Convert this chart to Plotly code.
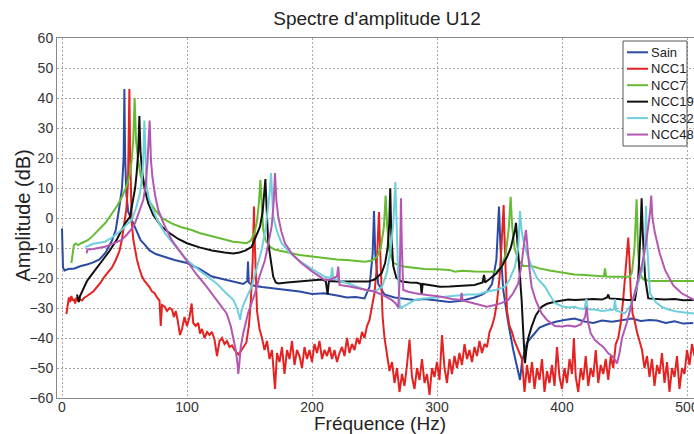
import plotly.graph_objects as go

# ---------------- data ----------------
series_names = ["Sain", "NCC1", "NCC7", "NCC19", "NCC32", "NCC48"]
series_colors = ["#2B4BA3", "#E52222", "#66BB33", "#111111", "#6FCFDB", "#B457B2"]

sain_f = [0, 0.8, 2, 5, 10, 15, 20, 25, 30, 35, 40, 43, 46, 48, 49.3, 49.9, 50.5, 51.5, 53, 55, 57, 60, 63, 66, 70, 75, 82, 90, 100, 110, 120, 130, 137, 145, 148.2, 148.8, 149.4, 153, 160, 170, 178, 190, 200, 210, 220, 228, 235, 242, 246, 248.5, 249.6, 250.6, 253, 258, 266, 275, 282, 290, 300, 310, 320, 330, 336, 340, 344, 347.5, 349.6, 350.8, 353, 357, 361, 364, 366.4, 368, 372, 377, 382, 388, 395, 402, 410, 418, 425, 432, 440, 449, 456, 463, 470, 476, 483, 490, 497, 505]
sain_db = [-3.5, -16.5, -17.5, -17, -16.8, -16, -15.5, -14.8, -13.8, -11.5, -7.5, -4, 4, 10, 20, 43, 20, 8, 2, 0, -2, -5, -7.5, -8.8, -10.8, -12, -13, -14, -15, -17, -19.5, -20.5, -21, -22, -21, -14.5, -21.5, -22.5, -23, -23.5, -24, -24.5, -25.3, -25.1, -25.8, -26.5, -26.3, -26.8, -23, -12, 2.3, -12, -22, -25.5, -26.5, -27, -27.3, -27, -27.5, -28, -27.6, -26.5, -25.5, -24.5, -22, -14, 3.8, -10, -24, -35, -44, -50, -54, -48, -41.5, -39, -36.5, -35.5, -34.6, -34, -33.5, -34.5, -35, -34.2, -34.6, -34, -33.5, -34.3, -34, -34.2, -35, -34.4, -35.2, -35]

ncc1_f = [3.5, 4.5, 5.5, 6.5, 7.5, 8.5, 9.5, 10.5, 11.5, 12.5, 14, 16, 18, 20, 22, 25, 28, 31, 34, 37, 40, 43, 46, 48, 50, 51.5, 52.8, 53.4, 53.9, 54.4, 55, 55.7, 57, 58.4, 60, 62, 64, 66, 68, 70, 72, 74, 76, 78, 79, 80, 82, 84, 86, 88, 89.5, 91, 92.5, 94.4, 96, 98, 100, 102, 103.7, 105, 107, 109, 110.4, 112, 114, 116, 118, 120, 122, 124, 126, 128, 130, 132, 134, 136, 138, 140, 141, 143, 145.5, 147.5, 149.5, 151, 152.5, 153.2, 153.6, 154, 155, 156, 158, 160, 162, 164, 166, 168, 170.4, 172, 174, 176, 178, 180, 182, 184, 186, 188, 190, 192, 194, 196, 198, 200, 202, 204, 206, 208, 210, 212, 214, 216, 218, 220, 222, 224, 226, 228, 230, 232, 234, 236, 238, 240, 242, 244, 246, 248, 250, 251.5, 252.8, 253.6, 254.3, 255.2, 256.5, 258, 260, 262, 264, 266, 268, 270, 272, 274, 276, 278, 280, 282, 284, 286, 288, 290, 292, 294, 296, 298, 300, 302, 304, 306, 308, 310, 312, 314, 316, 318, 320, 322, 324, 326, 328, 330, 332, 334, 336, 338, 340, 342, 344, 346, 348, 350, 351.5, 352.6, 353.3, 354, 355, 356, 358, 360, 362, 364, 366, 368, 370, 372, 374, 376, 378, 380, 382, 384, 386, 388, 390, 392, 394, 396, 398, 400, 402, 404, 406, 408, 409.5, 411, 413, 415, 417, 419, 421, 423, 425, 427, 429, 431, 433, 435, 437, 439, 441, 443, 445, 447, 449, 450.5, 452, 453, 454, 455, 456.5, 458, 460, 462, 464, 466, 468, 470, 472, 474, 476, 478, 480, 482, 484, 486, 488, 490, 492, 494, 496, 498, 500, 502, 504, 506]
ncc1_db = [-32, -29, -26.5, -28, -26, -27.5, -27, -28.5, -26.5, -27.5, -27, -27.5, -26.5, -26, -25.5, -24.5, -23, -21.5, -19.5, -18, -16.5, -14, -11, -7, -2, 3, 12, 25, 43, 25, 10, -1, -7, -10.5, -14, -17, -19.5, -21, -22, -23, -24.5, -25, -26.5, -27.5, -36, -29, -29.5, -31, -30, -30.5, -33, -31, -34, -39, -37, -33, -36, -33, -28.5, -35, -36, -35, -38.5, -37, -40, -38, -39, -38, -40.5, -46, -41, -40, -42, -41, -43, -42.5, -44, -45, -45.5, -44.5, -43, -41.5, -36, -28, -15, -2, 3.8, -5, -22, -31, -37, -40, -44, -41, -47, -44, -57, -45, -48, -43, -52, -44, -47, -41, -49, -44, -46, -50, -43, -47, -44, -48, -42, -45, -41, -47, -44, -46, -43, -47, -44, -48, -45, -43, -46, -40, -45, -42, -44, -40, -42, -38, -40, -36, -34, -30, -25, -18, -8, 2, -8, -20, -33, -40, -45, -51, -48, -55, -50, -58, -52, -56, -49, -40.5, -53, -57, -50, -54, -47, -55, -52, -59, -50, -53, -48, -54, -39, -50, -55, -47, -52, -46, -50, -45, -49, -42, -47, -44, -48, -43, -46, -41, -45, -42, -43, -38, -36, -33, -28, -20, -10, 0, 4.3, -6, -20, -31, -36, -38, -41, -43, -45, -47, -58, -49, -55, -48, -57, -50, -54, -47, -58, -51, -55, -49, -56, -43, -53, -57, -50, -55, -47, -52, -40, -53, -58, -50, -54, -46, -56, -50, -53, -44, -55, -49, -52, -47, -54, -46, -50, -42, -40, -35, -27, -20, -13, -6.5, -14, -25, -32, -34, -38, -41, -44, -50, -46, -53, -47, -56, -49, -52, -45, -55, -48, -58, -50, -53, -46, -57, -50, -52, -44, -49, -42, -46]

ncc7_f = [7.5, 8.3, 9.5, 11, 13, 15, 18, 21, 25, 30, 35, 40, 44, 48, 51.5, 54, 55.7, 57, 58.1, 59.2, 61, 63, 66.4, 70, 74.4, 80, 87.7, 95, 103.7, 110, 120, 130, 137, 143, 147.7, 151, 154, 156, 157.5, 158.7, 159.8, 161, 163, 166.4, 170, 180, 190, 200, 210.4, 220, 227.7, 235, 242.4, 248, 252, 255, 257.5, 258.9, 260.2, 262, 265, 273, 280, 290, 300, 310, 314.4, 320, 330, 340, 347.7, 352, 355, 357.5, 358.9, 360.2, 362, 365, 369, 375.7, 382, 390, 400, 410, 418.4, 425, 433.5, 434.4, 435.3, 442, 450, 454.4, 456, 458, 459.7, 460.8, 462, 465, 470.4, 480, 490, 500, 505.6]
ncc7_db = [-15, -13, -9, -8.5, -9, -8.5, -8, -7.3, -5.8, -3.8, -1.5, 1.5, 4, 7, 10.5, 14, 19, 26, 40, 26, 19, 14, 9.3, 5.5, 2.7, 0, -1.8, -3, -4, -5, -6, -7.2, -7.9, -8.2, -8.4, -7.5, -5, -1, 5, 12.7, 3, -4, -7.5, -9.6, -10.5, -11.5, -12.3, -12.8, -13.4, -13.8, -14, -14.2, -14.6, -14.2, -13, -10, -3, 7.5, -3, -11, -15, -16.2, -16.5, -17, -17.1, -17.3, -17.9, -17.6, -17.8, -17.9, -17.9, -16, -12, -3, 7.1, -3, -10, -14, -16, -16, -16.8, -17.5, -18.2, -18.8, -19, -19.3, -19.5, -16.8, -19.5, -19.6, -19.6, -19.6, -18, -10, 6.2, -10, -18, -20.5, -21, -21, -20.8, -20.9, -21]

ncc19_f = [12, 12.8, 13.5, 14.4, 16, 18, 20, 22.4, 26, 30.4, 34.4, 38, 43.7, 47.7, 51, 54.4, 56.5, 58.5, 59.7, 61, 61.9, 62.8, 64.3, 66.5, 69, 73, 79.7, 86, 93, 100, 110, 120, 130, 137, 142, 147, 151.7, 155, 158.4, 160.5, 161.8, 162.7, 163.5, 165, 167, 169, 171, 173, 180, 189, 196, 202.4, 208, 211, 212.5, 213.5, 220, 229, 238, 245, 250, 253, 255.7, 258.5, 260.5, 261.8, 262.6, 263.4, 265, 267.5, 271.7, 278, 284, 287, 287.7, 288.5, 295, 302.4, 310, 320, 330, 336.5, 337.6, 338.5, 343, 347.7, 352, 356, 359, 361, 362.4, 363.2, 364, 365, 366.5, 367.7, 369, 370.4, 371.5, 373, 375.7, 379, 383.7, 388, 394.4, 400, 405, 410.4, 418.4, 425, 432, 436, 437, 438, 445, 452, 458.4, 461, 462.8, 463.7, 464.6, 466.5, 469, 475, 482, 490, 497, 505.6]
ncc19_db = [-25.5, -27, -28, -26, -24.5, -22.5, -21, -19.6, -17.5, -15.1, -13, -11, -7.3, -4, -1.5, 0.4, 5, 10, 14.9, 22, 34, 22, 14.9, 9, 4.9, 1, -2.9, -5, -7, -8.4, -9.8, -10.8, -11.5, -11.8, -11.5, -10.8, -9.6, -6.5, -2.9, 2, 8, 13, 5, -8.4, -14, -19.6, -21.5, -21.8, -21.5, -21.2, -21, -20.7, -20.5, -21, -25.5, -21, -21.2, -21.2, -21.2, -21.2, -20.5, -19.5, -18.4, -15, -10, -2, 9.9, -5, -16, -20, -21.2, -21.5, -21.6, -22, -25.5, -22, -22.4, -22.9, -22.8, -22.5, -22.3, -21.5, -19, -21.5, -20, -18.4, -16, -13, -10, -7, -4, -1.6, -6, -14, -22, -27.3, -38, -48.4, -44, -40, -36.2, -32.5, -29.6, -28.6, -27.9, -27.6, -27.2, -27.3, -27.1, -27, -27.2, -26.5, -25.5, -26.8, -27, -27.3, -27.3, -20, -5, 6.6, -5, -20, -26.8, -27, -27.2, -27, -27.4, -27.3]

ncc32_f = [18.4, 20, 25, 30, 34.4, 40, 44, 47.7, 51, 55.7, 59, 62.4, 64.2, 65, 65.9, 66.8, 67.7, 69.5, 71.7, 76, 82.4, 90, 100, 110, 116, 123.7, 130, 137, 140, 142, 142.6, 143.5, 146, 151.7, 156, 159.7, 163, 165, 166.3, 167.2, 168, 169, 172, 175.7, 182, 189, 200, 210.4, 215, 216.2, 217.2, 221, 230, 242.4, 250, 256, 260, 263, 265, 266.7, 267.8, 269, 270.4, 273, 282.4, 289, 300, 306.4, 315.7, 325, 333, 339.8, 347, 354.4, 358, 362.4, 365, 366.4, 367.6, 369, 372, 375.7, 380, 386.4, 390, 394.4, 400, 405, 410.4, 413, 418, 419.5, 420.5, 426, 432, 441.5, 442.4, 443.3, 450.4, 455, 458.4, 462, 465, 466.5, 467.2, 468, 470.4, 475, 479.7, 485, 492, 498, 505.6]
ncc32_db = [-9.6, -9.5, -8.6, -8.2, -7.9, -6.5, -5.2, -4, -2.5, -0.7, 3, 8.2, 14, 19.3, 32.5, 19.3, 10.4, 6.5, 3.8, -0.5, -5.1, -9, -14, -17.5, -19.5, -21.8, -24.5, -27.3, -30, -33, -34, -31, -28, -22.9, -16, -10.7, -3, 3.8, 9, 15, 7, 0.4, -4.5, -8.4, -11.5, -14, -17, -19.6, -20, -16.5, -20.2, -20.7, -22, -24, -24.5, -23, -18, -10, -2, 12, -5, -20, -30, -29.5, -27.3, -26.8, -26.5, -26.2, -25.7, -25.5, -25.5, -24.5, -24, -22.9, -20.5, -16.2, -10, 2.3, -4, -7.3, -12, -16.2, -20, -22.9, -25.5, -28.4, -29.4, -29.8, -29.6, -30.1, -30.3, -27, -30.5, -30.5, -31, -30.5, -27, -30.8, -31.8, -29, -25.1, -20.5, -16.2, -8, 4, -8, -25.1, -28, -29.6, -30.5, -31.2, -31.5, -31.8]

ncc48_f = [19.7, 20.3, 25, 30, 34.4, 40, 44, 47.7, 52, 55, 58.4, 62, 65, 67, 68.5, 70.1, 71.2, 72.3, 74.5, 77, 82, 87.7, 94, 101, 108, 115.7, 123, 131.7, 135, 137, 139, 140.5, 141, 141.8, 143, 145, 149, 154.4, 158, 162.4, 165.5, 167.7, 169.3, 170.4, 171.5, 173, 175.5, 178.4, 184, 191.7, 200, 210.4, 215, 220, 221, 222, 230, 242.4, 250, 257, 263.7, 267, 269, 270.2, 270.8, 271.2, 271.8, 272.5, 273, 277, 282.4, 292, 302.4, 312, 319, 319.7, 320.5, 330, 339.8, 346.4, 352, 357, 361, 365, 367.5, 369, 370.3, 371.2, 372, 372.7, 374, 375.7, 379, 383.7, 388, 394.4, 400, 405, 410.4, 415, 418.5, 419.7, 421, 423, 426.4, 430, 433, 437, 440, 442.4, 444, 446, 448, 451.7, 455.7, 460, 463.7, 466.5, 469, 470.5, 471.4, 472.3, 474.4, 478, 482.4, 489, 495.7, 500, 505.6]
ncc48_db = [-11.8, -10.5, -10.3, -10, -9.6, -8.7, -8, -7.3, -5.5, -4, -1.8, 2.5, 6, 11, 19.3, 32.5, 19, 13.8, 7.5, 2.7, -2.5, -7.3, -11, -15.1, -19, -22.9, -27, -31.8, -36, -39.6, -44, -49, -52, -49, -43, -38.4, -31.5, -25.1, -19.5, -14, -8, -2.9, 5, 15, 6, 0.4, -4.5, -8.4, -12, -15.1, -17.8, -20.7, -20.5, -19.5, -16.2, -22.3, -22.8, -24, -24.5, -25.8, -27.3, -28.5, -29.8, -20, -5, 6.6, -8, -20, -24, -24.6, -25.1, -25.7, -26.2, -27, -27.3, -25, -27.5, -28.5, -29.6, -29, -28.3, -27.3, -25, -21.8, -16, -10.7, -7, -4, -8, -11.8, -17, -22.9, -27.5, -31.8, -34, -36, -36.2, -35.8, -36.2, -35.5, -33, -29.6, -35, -38.5, -40.7, -42, -43, -45.1, -46, -47.3, -48.5, -45, -40, -35.1, -28.4, -22, -16.2, -10, -2.9, 2, 7.5, 0, -5.1, -11.5, -17.3, -22.5, -25.1, -26, -27.3]

all_f = [sain_f, ncc1_f, ncc7_f, ncc19_f, ncc32_f, ncc48_f]
all_db = [sain_db, ncc1_db, ncc7_db, ncc19_db, ncc32_db, ncc48_db]

x_ticks = [0, 100, 200, 300, 400, 500]
y_ticks = [-60, -50, -40, -30, -20, -10, 0, 10, 20, 30, 40, 50, 60]

# ---------------- figure ----------------
FONT = "Arial, Liberation Sans, sans-serif"
W, H = 694, 434
L, T, R, B = 57, 38, 0, 36
pw, ph = W - L - R, H - T - B


def px_x(xw):   # window pixel -> paper x
    return (xw - L) / pw


def px_y(yw):   # window pixel -> paper y
    return 1 - (yw - T) / ph


fig = go.Figure()
for name, color, f, d in zip(series_names, series_colors, all_f, all_db):
    fig.add_trace(go.Scatter(x=f, y=d, mode="lines", name=name, showlegend=False,
                             line=dict(color=color, width=2)))

# legend box (MATLAB style) drawn in paper coordinates
leg_left, leg_right, leg_top, leg_bottom = 623, 687, 41, 146
row0, row_step = 52.3, 16.45
shapes = [dict(type="rect", xref="paper", yref="paper",
               x0=px_x(leg_left), x1=px_x(leg_right), y0=px_y(leg_bottom), y1=px_y(leg_top),
               fillcolor="white", line=dict(color="#555", width=1), layer="above")]
annotations = []
for i, (name, color) in enumerate(zip(series_names, series_colors)):
    yr = row0 + i * row_step
    shapes.append(dict(type="line", xref="paper", yref="paper",
                       x0=px_x(627), x1=px_x(648), y0=px_y(yr), y1=px_y(yr),
                       line=dict(color=color, width=2), layer="above"))
    annotations.append(dict(text=name, x=px_x(648.5), y=px_y(yr), xref="paper", yref="paper",
                            showarrow=False, xanchor="left", yanchor="middle",
                            font=dict(size=13, color="#222", family=FONT)))

annotations += [
    dict(text="Fréquence (Hz)", x=px_x(380), y=px_y(423), xref="paper", yref="paper",
         showarrow=False, xanchor="center", yanchor="middle",
         font=dict(size=19, color="#222", family=FONT)),
    dict(text="Amplitude (dB)", x=px_x(22.5), y=px_y(216), xref="paper", yref="paper",
         showarrow=False, xanchor="center", yanchor="middle", textangle=-90,
         font=dict(size=20, color="#222", family=FONT)),
]

fig.update_layout(
    width=W, height=H,
    margin=dict(l=L, r=R, t=T, b=B, autoexpand=False),
    paper_bgcolor="white", plot_bgcolor="white",
    font=dict(family=FONT, color="#333"),
    title=dict(text="Spectre d'amplitude U12", x=377 / W, xanchor="center",
               y=1 - 18 / H, yanchor="middle", yref="container",
               font=dict(size=19, color="#222", family=FONT)),
    showlegend=False,
    xaxis=dict(range=[-4, 505.6], tickvals=x_ticks, showgrid=True,
               gridcolor="#a8a8a8", griddash="2px,2px", gridwidth=1,
               zeroline=False, showline=True, linecolor="#888", linewidth=1, mirror=True,
               ticks="", ticklabelstandoff=-4, ticklabeloverflow="allow",
               tickfont=dict(size=14, color="#333")),
    yaxis=dict(range=[-60, 60], tickvals=y_ticks, showgrid=True,
               gridcolor="#a8a8a8", griddash="2px,2px", gridwidth=1,
               zeroline=False, showline=True, linecolor="#888", linewidth=1, mirror=True,
               ticks="", ticklabeloverflow="allow", tickfont=dict(size=14, color="#333")),
    shapes=shapes,
    annotations=annotations,
)

# remove the page's default 8px body margin so the figure fills the window exactly
fig.write_html("out.html",
               config={"displayModeBar": False},
               post_script="document.body.style.margin='0';document.body.style.overflow='hidden';")
